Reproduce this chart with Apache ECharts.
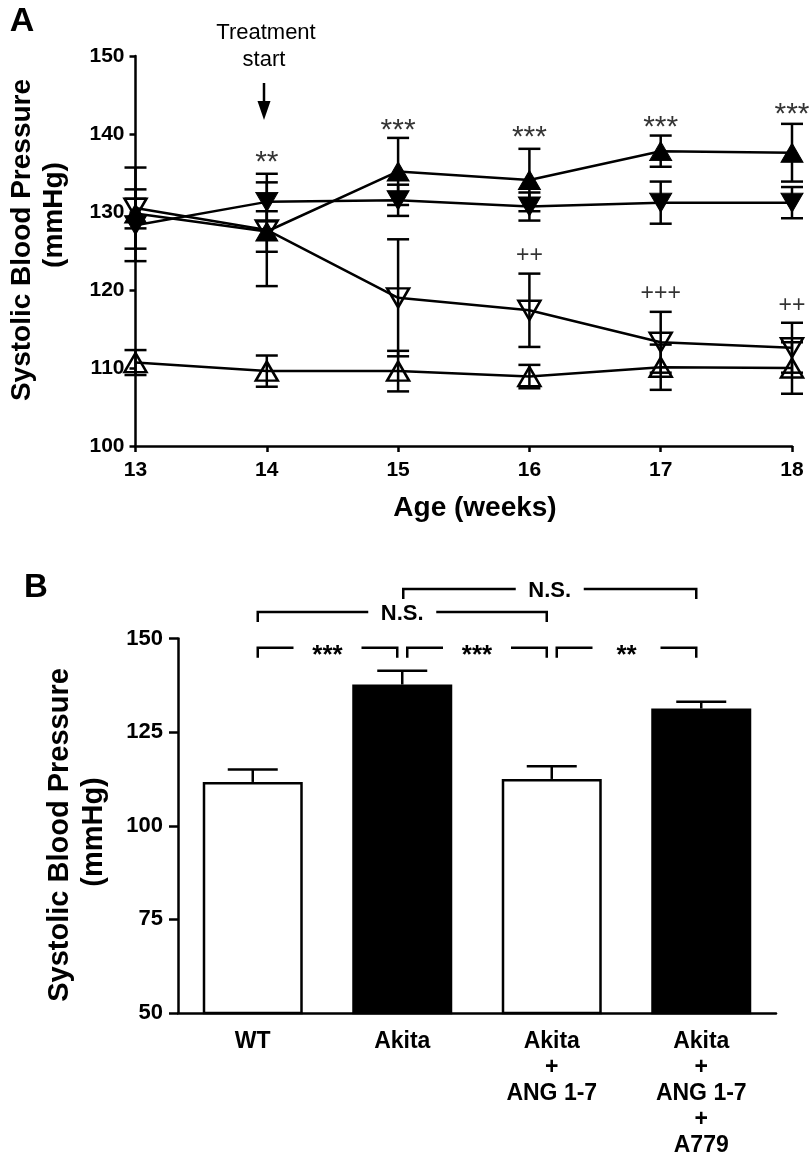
<!DOCTYPE html>
<html><head><meta charset="utf-8">
<script src="https://cdn.jsdelivr.net/npm/echarts@6/dist/echarts.min.js"></script>
<style>html,body{margin:0;padding:0;background:#fff}#c{width:809px;height:1160px}</style>
</head><body><div id="c"></div>
<script>
// ---------- Panel A data ----------
const weeks = [13, 14, 15, 16, 17, 18];
const wt = [110.7, 109.6, 109.6, 108.9, 110.1, 110.0];
const wtErr = [1.6, 2.0, 2.6, 1.5, 2.9, 3.3];
const akita = [129.8, 127.5, 135.2, 134.1, 137.8, 137.6];
const akitaErr = [1.9, 2.6, 4.3, 4.0, 2.0, 3.7];
const akitaAng = [130.5, 127.7, 119.0, 117.4, 113.3, 112.6];
const akitaAngErr = [5.2, 7.2, 7.5, 4.7, 3.9, 3.2];
const akitaAngA779 = [128.3, 131.3, 131.5, 130.7, 131.2, 131.2];
const akitaAngA779Err = [4.6, 2.5, 2.0, 1.8, 2.7, 2.0];
const starWeeks = [14, 15, 16, 17, 18];
const starVals = [137.3, 141.4, 140.5, 141.8, 143.5];
const starText = ['**', '***', '***', '***', '***'];
const plusWeeks = [16, 17, 18];
const plusVals = [124.5, 119.6, 118.1];
const plusText = ['++', '+++', '++'];

// ---------- Panel B data ----------
const groups = ['WT', 'Akita', 'Akita\n+\nANG 1-7', 'Akita\n+\nANG 1-7\n+\nA779'];
const barVals = [111.7, 137.7, 112.5, 131.3];
const barErr = [3.3, 3.7, 3.4, 1.8];
const barFilled = [false, true, false, true];
const compFrom = [0, 1, 2, 0, 1];
const compTo = [1, 2, 3, 2, 3];
const compText = ['***', '***', '**', 'N.S.', 'N.S.'];
const compLevel = [147.5, 147.5, 147.5, 157.1, 163.2];

const FF = '"Liberation Sans", Arial, sans-serif';
const LW = 2.5;

function errA(vals, errs) {
  return {
    type: 'custom', xAxisIndex: 0, yAxisIndex: 0, z: 2, silent: true, clip: false,
    data: weeks.map((w, i) => [w, vals[i], errs[i]]),
    renderItem: (params, api) => {
      const x = api.value(0), v = api.value(1), e = api.value(2);
      const t = api.coord([x, v + e]), b = api.coord([x, v - e]);
      const hw = 11, st = { stroke: '#000', lineWidth: LW };
      return { type: 'group', children: [
        { type: 'line', shape: { x1: t[0], y1: t[1], x2: b[0], y2: b[1] }, style: st },
        { type: 'line', shape: { x1: t[0] - hw, y1: t[1], x2: t[0] + hw, y2: t[1] }, style: st },
        { type: 'line', shape: { x1: b[0] - hw, y1: b[1], x2: b[0] + hw, y2: b[1] }, style: st }
      ]};
    }
  };
}

function lineA(name, vals, filled, rot) {
  return {
    type: 'line', name: name, xAxisIndex: 0, yAxisIndex: 0, z: 3,
    data: weeks.map((w, i) => [w, vals[i]]),
    symbol: 'triangle', symbolSize: [22, 19], symbolRotate: rot,
    lineStyle: { color: '#000', width: LW },
    itemStyle: filled ? { color: '#000', borderColor: '#000', borderWidth: 1 }
                      : { color: 'rgba(0,0,0,0)', borderColor: '#000', borderWidth: LW },
    emphasis: { disabled: true }, animation: false
  };
}

function annA(xs, vs, ts, size, dy) {
  return {
    type: 'scatter', xAxisIndex: 0, yAxisIndex: 0, z: 5, symbolSize: 0, silent: true,
    data: xs.map((x, i) => [x, vs[i], ts[i]]),
    label: { show: true, position: 'inside', offset: [0, dy], formatter: p => p.data[2],
      color: '#000', fontFamily: FF, fontSize: size, fontWeight: 'normal' }
  };
}

const option = {
  animation: false,
  backgroundColor: '#fff',
  grid: [
    { left: 135.5, top: 56, width: 656.5, height: 390 },
    { left: 178, top: 638.5, width: 598, height: 374.5 }
  ],
  xAxis: [
    { type: 'value', gridIndex: 0, min: 13, max: 18, interval: 1,
      axisLine: { lineStyle: { color: '#000', width: LW } },
      axisTick: { length: 6, lineStyle: { color: '#000', width: LW } },
      axisLabel: { color: '#000', fontFamily: FF, fontWeight: 'bold', fontSize: 21, margin: 14 },
      splitLine: { show: false } },
    { type: 'category', gridIndex: 1, data: groups,
      axisLine: { lineStyle: { color: '#000', width: LW } },
      axisTick: { alignWithLabel: true, length: 8, lineStyle: { color: '#000', width: LW } },
      axisLabel: { color: '#000', fontFamily: FF, fontWeight: 'bold', fontSize: 23, lineHeight: 26, margin: 16, interval: 0 } }
  ],
  yAxis: [
    { type: 'value', gridIndex: 0, min: 100, max: 150, interval: 10,
      axisLine: { show: true, lineStyle: { color: '#000', width: LW } },
      axisTick: { show: true, length: 6, lineStyle: { color: '#000', width: LW } },
      axisLabel: { color: '#000', fontFamily: FF, fontWeight: 'bold', fontSize: 21, margin: 11 },
      splitLine: { show: false } },
    { type: 'value', gridIndex: 1, min: 50, max: 150, interval: 25,
      axisLine: { show: true, lineStyle: { color: '#000', width: LW } },
      axisTick: { show: true, length: 9, lineStyle: { color: '#000', width: LW } },
      axisLabel: { color: '#000', fontFamily: FF, fontWeight: 'bold', fontSize: 22, margin: 15 },
      splitLine: { show: false } }
  ],
  series: [
    errA(wt, wtErr), errA(akitaAng, akitaAngErr), errA(akita, akitaErr), errA(akitaAngA779, akitaAngA779Err),
    lineA('WT', wt, false, 0),
    lineA('Akita + ANG 1-7', akitaAng, false, 180),
    lineA('Akita', akita, true, 0),
    lineA('Akita + ANG 1-7 + A779', akitaAngA779, true, 180),
    annA(starWeeks, starVals, starText, 30, 8),
    annA(plusWeeks, plusVals, plusText, 23, 1),
    { type: 'bar', xAxisIndex: 1, yAxisIndex: 1, barWidth: 100, z: 2, silent: true,
      data: barVals.map((v, i) => ({ value: v, itemStyle: { color: barFilled[i] ? '#000' : '#fff', borderColor: '#000', borderWidth: LW } })) },
    { type: 'custom', xAxisIndex: 1, yAxisIndex: 1, z: 3, silent: true, clip: false,
      data: barVals.map((v, i) => [i, v, barErr[i]]),
      renderItem: (params, api) => {
        const i = api.value(0), v = api.value(1), e = api.value(2);
        const b = api.coord([i, v]), t = api.coord([i, v + e]);
        const hw = 25, st = { stroke: '#000', lineWidth: LW };
        return { type: 'group', children: [
          { type: 'line', shape: { x1: b[0], y1: b[1], x2: t[0], y2: t[1] }, style: st },
          { type: 'line', shape: { x1: t[0] - hw, y1: t[1], x2: t[0] + hw, y2: t[1] }, style: st }
        ]};
      } },
    { type: 'custom', xAxisIndex: 1, yAxisIndex: 1, z: 3, silent: true, clip: false,
      data: compFrom.map((f, i) => [f, compLevel[i]]),
      renderItem: (params, api) => {
        const k = params.dataIndex;
        const p1 = api.coord([compFrom[k], compLevel[k]]);
        const p2 = api.coord([compTo[k], compLevel[k]]);
        const isNS = compText[k] === 'N.S.';
        const x1 = p1[0] + (k === 4 ? 1 : 5), x2 = p2[0] - 5, y = p1[1];
        const mid = (x1 + x2) / 2, gap = 34, leg = 10;
        const st = { stroke: '#000', lineWidth: LW };
        return { type: 'group', children: [
          { type: 'polyline', shape: { points: [[x1, y + leg], [x1, y], [mid - gap, y]] }, style: Object.assign({ fill: null }, st) },
          { type: 'polyline', shape: { points: [[mid + gap, y], [x2, y], [x2, y + leg]] }, style: Object.assign({ fill: null }, st) },
          { type: 'text', x: mid, y: y + (isNS ? 2 : 8),
            style: { text: compText[k], fill: '#000', align: 'center', verticalAlign: 'middle',
              textAlign: 'center', textVerticalAlign: 'middle',
              font: 'bold ' + (isNS ? 22 : 26) + 'px ' + FF } }
        ]};
      } }
  ],
  graphic: [
    { type: 'text', x: 22, y: 22, style: { text: 'A', font: 'bold 34px ' + FF, fill: '#000', align: 'center', verticalAlign: 'middle' } },
    { type: 'text', x: 36, y: 588, style: { text: 'B', font: 'bold 33px ' + FF, fill: '#000', align: 'center', verticalAlign: 'middle' } },
    { type: 'text', x: 266, y: 33, style: { text: 'Treatment', font: '22px ' + FF, fill: '#000', align: 'center', verticalAlign: 'middle' } },
    { type: 'text', x: 264, y: 60, style: { text: 'start', font: '22px ' + FF, fill: '#000', align: 'center', verticalAlign: 'middle' } },
    { type: 'line', shape: { x1: 264, y1: 83, x2: 264, y2: 104 }, style: { stroke: '#000', lineWidth: LW } },
    { type: 'polygon', shape: { points: [[257.5, 101], [270.5, 101], [264, 120]] }, style: { fill: '#000' } },
    { type: 'text', x: 475, y: 508, style: { text: 'Age (weeks)', font: 'bold 28px ' + FF, fill: '#000', align: 'center', verticalAlign: 'middle' } },
    { type: 'text', x: 22, y: 240, rotation: Math.PI / 2, style: { text: 'Systolic Blood Pressure', font: 'bold 28px ' + FF, fill: '#000', align: 'center', verticalAlign: 'middle' } },
    { type: 'text', x: 54, y: 215, rotation: Math.PI / 2, style: { text: '(mmHg)', font: 'bold 28px ' + FF, fill: '#000', align: 'center', verticalAlign: 'middle' } },
    { type: 'text', x: 60, y: 835, rotation: Math.PI / 2, style: { text: 'Systolic Blood Pressure', font: 'bold 29px ' + FF, fill: '#000', align: 'center', verticalAlign: 'middle' } },
    { type: 'text', x: 94, y: 832, rotation: Math.PI / 2, style: { text: '(mmHg)', font: 'bold 29px ' + FF, fill: '#000', align: 'center', verticalAlign: 'middle' } }
  ]
};

const chart = echarts.init(document.getElementById('c'), null, { renderer: 'canvas' });
chart.setOption(option);
</script>
</body></html>
